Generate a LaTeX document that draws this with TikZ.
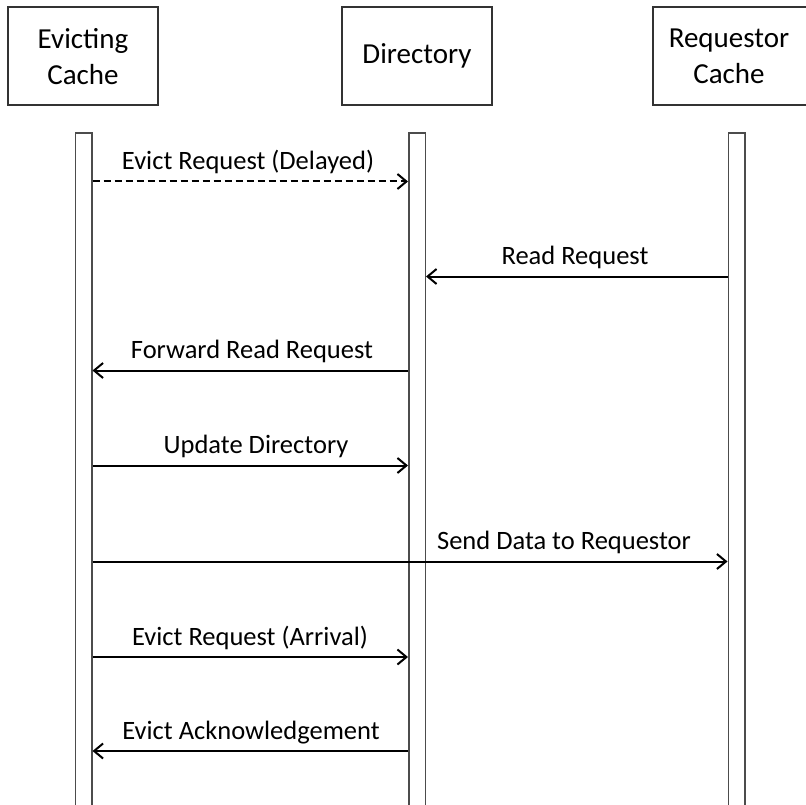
\documentclass[tikz,border=0pt]{standalone}
\usepackage{fontspec}
\setmainfont{Carlito}
\usetikzlibrary{arrows.meta}

\tikzset{
  head/.style={draw=black!80, line width=1.5pt, fill=white,
    minimum width=150pt, minimum height=98pt, inner sep=0pt},
  headtext/.style={align=center, inner sep=0pt,
    font=\fontsize{29}{36}\selectfont},
  life/.style={draw=black!70, line width=1.5pt, fill=white,
    minimum width=16.5pt, minimum height=682pt, inner sep=0pt},
  msg/.style={line width=2pt, -{Straight Barb[length=9pt,width=15pt,line width=2pt]}},
  async/.style={msg, dash pattern=on 7pt off 4pt},
  lbl/.style={anchor=base, inner sep=0pt,
    font=\fontsize{26.5}{32}\selectfont},
}

\begin{document}
\begin{tikzpicture}[x=1pt, y=-1pt]
\clip (0,0) rectangle (806,805);
\fill[white] (0,0) rectangle (806,805);

% participants
\node[head] (ev) at (83,56) {};
\node[headtext] (evt) at (83,56.5) {Evicting\\Cache};
\node[head] (dir) at (417,56) {};
\node[headtext] (dirt) at (417,56) {Directory};
\node[head, minimum width=164pt] (rq) at (735,56) {};
\node[headtext] (rqt) at (729,56.5) {Requestor\\Cache};

% lifelines
\node[life] (evbar) at (83.5,474) {};
\node[life] (dirbar) at (417,474) {};
\node[life] (rqbar) at (736.5,474) {};

% message rows
\coordinate (m1) at (0,181.5);
\coordinate (m2) at (0,276.5);
\coordinate (m3) at (0,370.5);
\coordinate (m4) at (0,465.5);
\coordinate (m5) at (0,561.5);
\coordinate (m6) at (0,657);
\coordinate (m7) at (0,751);

% messages
\draw[async] (evbar.east |- m1) -- (dirbar.west |- m1);
\node[lbl] (l1) at (248,169.5) {Evict Request (Delayed)};

\draw[msg] (rqbar.west |- m2) -- (dirbar.east |- m2);
\node[lbl] (l2) at (575,264.5) {Read Request};

\draw[msg] (dirbar.west |- m3) -- (evbar.east |- m3);
\node[lbl] (l3) at (252,358.5) {Forward Read Request};

\draw[msg] (evbar.east |- m4) -- (dirbar.west |- m4);
\node[lbl] (l4) at (256,453.5) {Update Directory};

\draw[msg] (evbar.east |- m5) -- (rqbar.west |- m5);
\node[lbl] (l5) at (564,549.5) {Send Data to Requestor};

\draw[msg] (evbar.east |- m6) -- (dirbar.west |- m6);
\node[lbl] (l6) at (250,645) {Evict Request (Arrival)};

\draw[msg] (dirbar.west |- m7) -- (evbar.east |- m7);
\node[lbl] (l7) at (251,739) {Evict Acknowledgement};
\end{tikzpicture}
\end{document}
